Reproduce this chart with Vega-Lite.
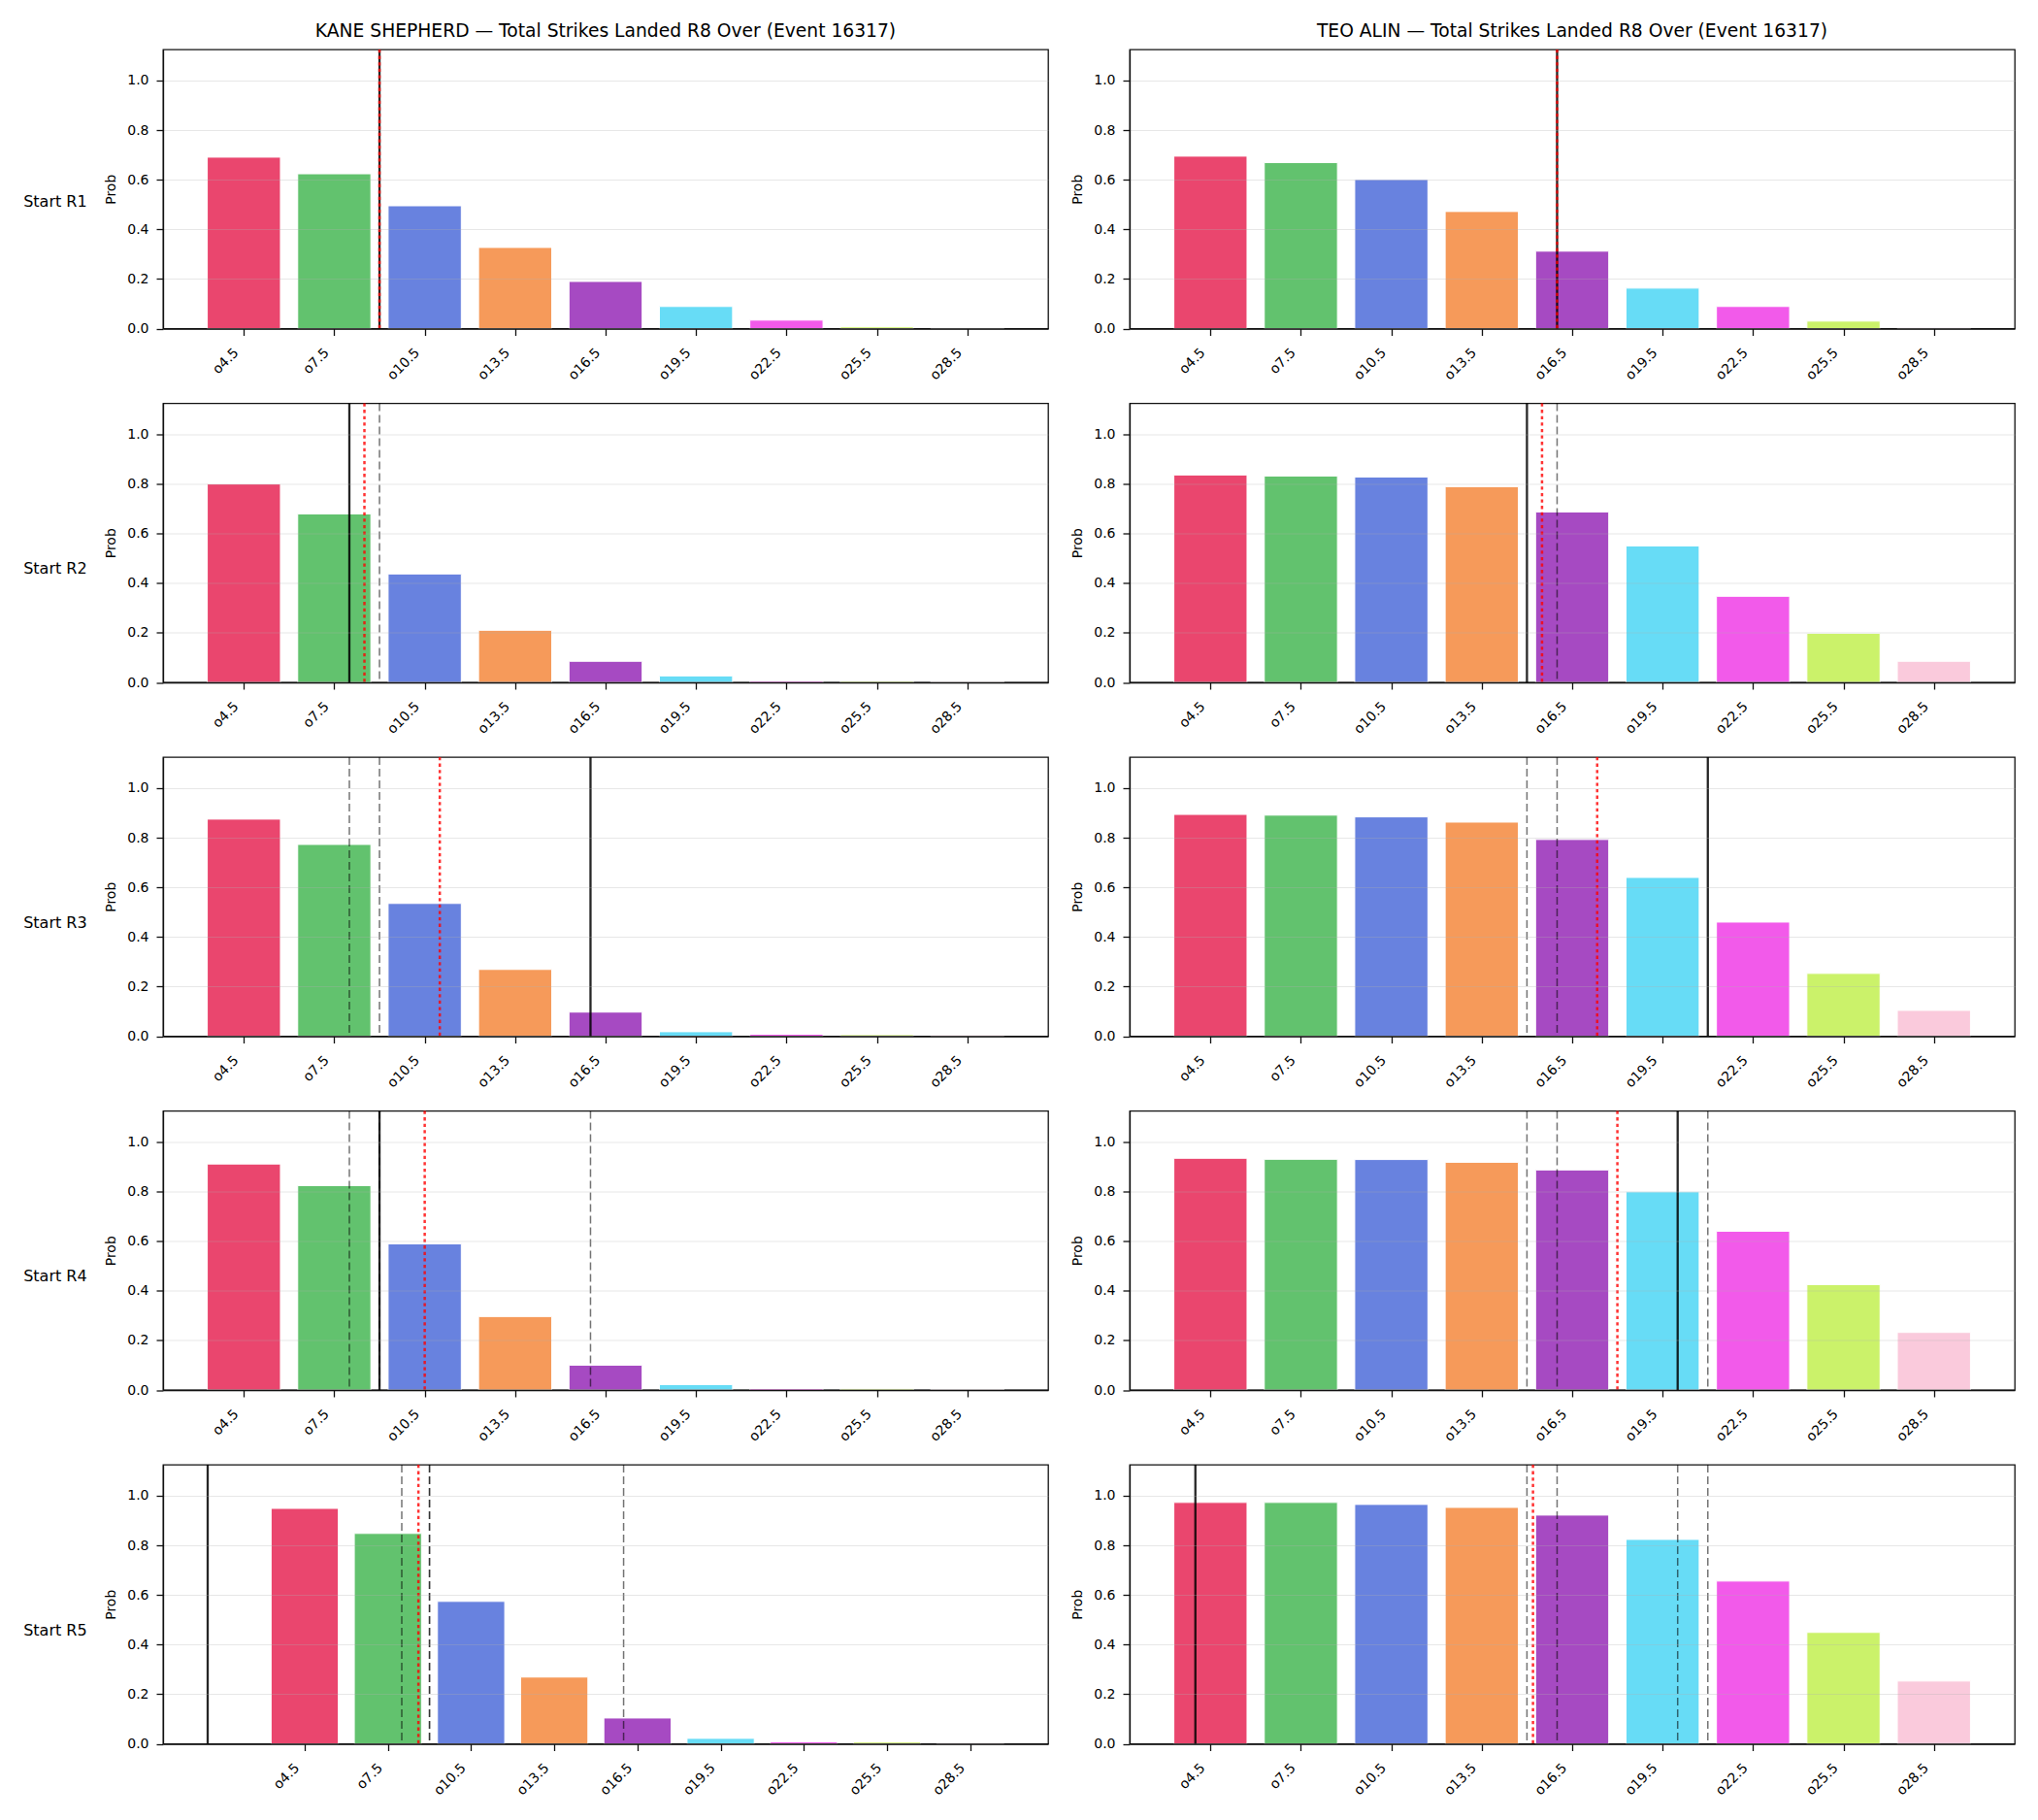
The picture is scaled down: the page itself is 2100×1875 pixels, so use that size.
{
 "$schema": "https://vega.github.io/schema/vega-lite/v6.json",
 "background": "white",
 "padding": {"left": 24, "top": 21, "right": 5, "bottom": 5},
 "config": {
  "font": "DejaVu Sans",
  "view": {"stroke": "#111", "strokeWidth": 1.3},
  "axis": {"labelFont": "DejaVu Sans", "labelFontSize": 14, "labelColor": "#000", "titleFont": "DejaVu Sans", "titleFontSize": 14, "titleFontWeight": "normal", "titleColor": "#000", "tickColor": "#111", "tickSize": 7, "tickWidth": 1.3, "domainColor": "#111", "domainWidth": 1.3},
  "title": {"font": "DejaVu Sans", "fontWeight": "normal", "color": "#000"}
 },
 "datasets": {
  "bars": [
   {"fighter": "KANE SHEPHERD", "start": "R1", "strikes": 4.5, "prob": 0.691},
   {"fighter": "KANE SHEPHERD", "start": "R1", "strikes": 7.5, "prob": 0.624},
   {"fighter": "KANE SHEPHERD", "start": "R1", "strikes": 10.5, "prob": 0.495},
   {"fighter": "KANE SHEPHERD", "start": "R1", "strikes": 13.5, "prob": 0.327},
   {"fighter": "KANE SHEPHERD", "start": "R1", "strikes": 16.5, "prob": 0.190},
   {"fighter": "KANE SHEPHERD", "start": "R1", "strikes": 19.5, "prob": 0.089},
   {"fighter": "KANE SHEPHERD", "start": "R1", "strikes": 22.5, "prob": 0.034},
   {"fighter": "KANE SHEPHERD", "start": "R1", "strikes": 25.5, "prob": 0.007},
   {"fighter": "KANE SHEPHERD", "start": "R1", "strikes": 28.5, "prob": 0.002},
   {"fighter": "TEO ALIN", "start": "R1", "strikes": 4.5, "prob": 0.695},
   {"fighter": "TEO ALIN", "start": "R1", "strikes": 7.5, "prob": 0.669},
   {"fighter": "TEO ALIN", "start": "R1", "strikes": 10.5, "prob": 0.601},
   {"fighter": "TEO ALIN", "start": "R1", "strikes": 13.5, "prob": 0.472},
   {"fighter": "TEO ALIN", "start": "R1", "strikes": 16.5, "prob": 0.312},
   {"fighter": "TEO ALIN", "start": "R1", "strikes": 19.5, "prob": 0.163},
   {"fighter": "TEO ALIN", "start": "R1", "strikes": 22.5, "prob": 0.089},
   {"fighter": "TEO ALIN", "start": "R1", "strikes": 25.5, "prob": 0.030},
   {"fighter": "TEO ALIN", "start": "R1", "strikes": 28.5, "prob": 0.005},
   {"fighter": "KANE SHEPHERD", "start": "R2", "strikes": 4.5, "prob": 0.800},
   {"fighter": "KANE SHEPHERD", "start": "R2", "strikes": 7.5, "prob": 0.679},
   {"fighter": "KANE SHEPHERD", "start": "R2", "strikes": 10.5, "prob": 0.437},
   {"fighter": "KANE SHEPHERD", "start": "R2", "strikes": 13.5, "prob": 0.210},
   {"fighter": "KANE SHEPHERD", "start": "R2", "strikes": 16.5, "prob": 0.085},
   {"fighter": "KANE SHEPHERD", "start": "R2", "strikes": 19.5, "prob": 0.026},
   {"fighter": "KANE SHEPHERD", "start": "R2", "strikes": 22.5, "prob": 0.006},
   {"fighter": "KANE SHEPHERD", "start": "R2", "strikes": 25.5, "prob": 0.005},
   {"fighter": "KANE SHEPHERD", "start": "R2", "strikes": 28.5, "prob": 0.003},
   {"fighter": "TEO ALIN", "start": "R2", "strikes": 4.5, "prob": 0.836},
   {"fighter": "TEO ALIN", "start": "R2", "strikes": 7.5, "prob": 0.832},
   {"fighter": "TEO ALIN", "start": "R2", "strikes": 10.5, "prob": 0.828},
   {"fighter": "TEO ALIN", "start": "R2", "strikes": 13.5, "prob": 0.789},
   {"fighter": "TEO ALIN", "start": "R2", "strikes": 16.5, "prob": 0.687},
   {"fighter": "TEO ALIN", "start": "R2", "strikes": 19.5, "prob": 0.550},
   {"fighter": "TEO ALIN", "start": "R2", "strikes": 22.5, "prob": 0.347},
   {"fighter": "TEO ALIN", "start": "R2", "strikes": 25.5, "prob": 0.198},
   {"fighter": "TEO ALIN", "start": "R2", "strikes": 28.5, "prob": 0.085},
   {"fighter": "KANE SHEPHERD", "start": "R3", "strikes": 4.5, "prob": 0.875},
   {"fighter": "KANE SHEPHERD", "start": "R3", "strikes": 7.5, "prob": 0.773},
   {"fighter": "KANE SHEPHERD", "start": "R3", "strikes": 10.5, "prob": 0.535},
   {"fighter": "KANE SHEPHERD", "start": "R3", "strikes": 13.5, "prob": 0.269},
   {"fighter": "KANE SHEPHERD", "start": "R3", "strikes": 16.5, "prob": 0.097},
   {"fighter": "KANE SHEPHERD", "start": "R3", "strikes": 19.5, "prob": 0.018},
   {"fighter": "KANE SHEPHERD", "start": "R3", "strikes": 22.5, "prob": 0.008},
   {"fighter": "KANE SHEPHERD", "start": "R3", "strikes": 25.5, "prob": 0.006},
   {"fighter": "KANE SHEPHERD", "start": "R3", "strikes": 28.5, "prob": 0.005},
   {"fighter": "TEO ALIN", "start": "R3", "strikes": 4.5, "prob": 0.894},
   {"fighter": "TEO ALIN", "start": "R3", "strikes": 7.5, "prob": 0.891},
   {"fighter": "TEO ALIN", "start": "R3", "strikes": 10.5, "prob": 0.884},
   {"fighter": "TEO ALIN", "start": "R3", "strikes": 13.5, "prob": 0.863},
   {"fighter": "TEO ALIN", "start": "R3", "strikes": 16.5, "prob": 0.793},
   {"fighter": "TEO ALIN", "start": "R3", "strikes": 19.5, "prob": 0.640},
   {"fighter": "TEO ALIN", "start": "R3", "strikes": 22.5, "prob": 0.460},
   {"fighter": "TEO ALIN", "start": "R3", "strikes": 25.5, "prob": 0.253},
   {"fighter": "TEO ALIN", "start": "R3", "strikes": 28.5, "prob": 0.104},
   {"fighter": "KANE SHEPHERD", "start": "R4", "strikes": 4.5, "prob": 0.911},
   {"fighter": "KANE SHEPHERD", "start": "R4", "strikes": 7.5, "prob": 0.824},
   {"fighter": "KANE SHEPHERD", "start": "R4", "strikes": 10.5, "prob": 0.589},
   {"fighter": "KANE SHEPHERD", "start": "R4", "strikes": 13.5, "prob": 0.296},
   {"fighter": "KANE SHEPHERD", "start": "R4", "strikes": 16.5, "prob": 0.100},
   {"fighter": "KANE SHEPHERD", "start": "R4", "strikes": 19.5, "prob": 0.022},
   {"fighter": "KANE SHEPHERD", "start": "R4", "strikes": 22.5, "prob": 0.006},
   {"fighter": "KANE SHEPHERD", "start": "R4", "strikes": 25.5, "prob": 0.005},
   {"fighter": "KANE SHEPHERD", "start": "R4", "strikes": 28.5, "prob": 0.003},
   {"fighter": "TEO ALIN", "start": "R4", "strikes": 4.5, "prob": 0.934},
   {"fighter": "TEO ALIN", "start": "R4", "strikes": 7.5, "prob": 0.930},
   {"fighter": "TEO ALIN", "start": "R4", "strikes": 10.5, "prob": 0.929},
   {"fighter": "TEO ALIN", "start": "R4", "strikes": 13.5, "prob": 0.918},
   {"fighter": "TEO ALIN", "start": "R4", "strikes": 16.5, "prob": 0.887},
   {"fighter": "TEO ALIN", "start": "R4", "strikes": 19.5, "prob": 0.799},
   {"fighter": "TEO ALIN", "start": "R4", "strikes": 22.5, "prob": 0.640},
   {"fighter": "TEO ALIN", "start": "R4", "strikes": 25.5, "prob": 0.425},
   {"fighter": "TEO ALIN", "start": "R4", "strikes": 28.5, "prob": 0.232},
   {"fighter": "KANE SHEPHERD", "start": "R5", "strikes": 4.5, "prob": 0.949},
   {"fighter": "KANE SHEPHERD", "start": "R5", "strikes": 7.5, "prob": 0.848},
   {"fighter": "KANE SHEPHERD", "start": "R5", "strikes": 10.5, "prob": 0.574},
   {"fighter": "KANE SHEPHERD", "start": "R5", "strikes": 13.5, "prob": 0.269},
   {"fighter": "KANE SHEPHERD", "start": "R5", "strikes": 16.5, "prob": 0.104},
   {"fighter": "KANE SHEPHERD", "start": "R5", "strikes": 19.5, "prob": 0.022},
   {"fighter": "KANE SHEPHERD", "start": "R5", "strikes": 22.5, "prob": 0.008},
   {"fighter": "KANE SHEPHERD", "start": "R5", "strikes": 25.5, "prob": 0.007},
   {"fighter": "KANE SHEPHERD", "start": "R5", "strikes": 28.5, "prob": 0.005},
   {"fighter": "TEO ALIN", "start": "R5", "strikes": 4.5, "prob": 0.973},
   {"fighter": "TEO ALIN", "start": "R5", "strikes": 7.5, "prob": 0.973},
   {"fighter": "TEO ALIN", "start": "R5", "strikes": 10.5, "prob": 0.965},
   {"fighter": "TEO ALIN", "start": "R5", "strikes": 13.5, "prob": 0.953},
   {"fighter": "TEO ALIN", "start": "R5", "strikes": 16.5, "prob": 0.922},
   {"fighter": "TEO ALIN", "start": "R5", "strikes": 19.5, "prob": 0.824},
   {"fighter": "TEO ALIN", "start": "R5", "strikes": 22.5, "prob": 0.656},
   {"fighter": "TEO ALIN", "start": "R5", "strikes": 25.5, "prob": 0.449},
   {"fighter": "TEO ALIN", "start": "R5", "strikes": 28.5, "prob": 0.253}
  ],
  "lines": [
   {"fighter": "KANE SHEPHERD", "start": "R1", "kind": "actual", "strikes": 9},
   {"fighter": "KANE SHEPHERD", "start": "R1", "kind": "model", "strikes": 9},
   {"fighter": "KANE SHEPHERD", "start": "R2", "kind": "prior", "strikes": 9},
   {"fighter": "KANE SHEPHERD", "start": "R2", "kind": "actual", "strikes": 8},
   {"fighter": "KANE SHEPHERD", "start": "R2", "kind": "model", "strikes": 8.5},
   {"fighter": "KANE SHEPHERD", "start": "R3", "kind": "prior", "strikes": 9},
   {"fighter": "KANE SHEPHERD", "start": "R3", "kind": "prior", "strikes": 8},
   {"fighter": "KANE SHEPHERD", "start": "R3", "kind": "actual", "strikes": 16},
   {"fighter": "KANE SHEPHERD", "start": "R3", "kind": "model", "strikes": 11},
   {"fighter": "KANE SHEPHERD", "start": "R4", "kind": "prior", "strikes": 9},
   {"fighter": "KANE SHEPHERD", "start": "R4", "kind": "prior", "strikes": 8},
   {"fighter": "KANE SHEPHERD", "start": "R4", "kind": "prior", "strikes": 16},
   {"fighter": "KANE SHEPHERD", "start": "R4", "kind": "actual", "strikes": 9},
   {"fighter": "KANE SHEPHERD", "start": "R4", "kind": "model", "strikes": 10.5},
   {"fighter": "KANE SHEPHERD", "start": "R5", "kind": "prior", "strikes": 9},
   {"fighter": "KANE SHEPHERD", "start": "R5", "kind": "prior", "strikes": 8},
   {"fighter": "KANE SHEPHERD", "start": "R5", "kind": "prior", "strikes": 16},
   {"fighter": "KANE SHEPHERD", "start": "R5", "kind": "prior", "strikes": 9},
   {"fighter": "KANE SHEPHERD", "start": "R5", "kind": "actual", "strikes": 1},
   {"fighter": "KANE SHEPHERD", "start": "R5", "kind": "model", "strikes": 8.6},
   {"fighter": "TEO ALIN", "start": "R1", "kind": "actual", "strikes": 16},
   {"fighter": "TEO ALIN", "start": "R1", "kind": "model", "strikes": 16},
   {"fighter": "TEO ALIN", "start": "R2", "kind": "prior", "strikes": 16},
   {"fighter": "TEO ALIN", "start": "R2", "kind": "actual", "strikes": 15},
   {"fighter": "TEO ALIN", "start": "R2", "kind": "model", "strikes": 15.5},
   {"fighter": "TEO ALIN", "start": "R3", "kind": "prior", "strikes": 16},
   {"fighter": "TEO ALIN", "start": "R3", "kind": "prior", "strikes": 15},
   {"fighter": "TEO ALIN", "start": "R3", "kind": "actual", "strikes": 21},
   {"fighter": "TEO ALIN", "start": "R3", "kind": "model", "strikes": 17.33},
   {"fighter": "TEO ALIN", "start": "R4", "kind": "prior", "strikes": 16},
   {"fighter": "TEO ALIN", "start": "R4", "kind": "prior", "strikes": 15},
   {"fighter": "TEO ALIN", "start": "R4", "kind": "prior", "strikes": 21},
   {"fighter": "TEO ALIN", "start": "R4", "kind": "actual", "strikes": 20},
   {"fighter": "TEO ALIN", "start": "R4", "kind": "model", "strikes": 18},
   {"fighter": "TEO ALIN", "start": "R5", "kind": "prior", "strikes": 16},
   {"fighter": "TEO ALIN", "start": "R5", "kind": "prior", "strikes": 15},
   {"fighter": "TEO ALIN", "start": "R5", "kind": "prior", "strikes": 21},
   {"fighter": "TEO ALIN", "start": "R5", "kind": "prior", "strikes": 20},
   {"fighter": "TEO ALIN", "start": "R5", "kind": "actual", "strikes": 4},
   {"fighter": "TEO ALIN", "start": "R5", "kind": "model", "strikes": 15.2}
  ]
 },
 "spacing": 18.5,
 "vconcat": [
  {"title": {"text": "Start R1", "orient": "left", "angle": 0, "align": "right", "baseline": "middle", "anchor": "middle", "fontSize": 16, "offset": -48},
   "hconcat": [
    {"width": 912, "height": 287.5,
     "title": {"text": "KANE SHEPHERD — Total Strikes Landed R8 Over (Event 16317)", "fontSize": 18.7, "anchor": "middle", "offset": -6.5, "baseline": "alphabetic"},
     "encoding": {"x": {"field": "strikes", "type": "quantitative", "scale": {"domain": [1.98, 31.02], "nice": false, "zero": false}, "axis": {"title": null, "values": [4.5, 7.5, 10.5, 13.5, 16.5, 19.5, 22.5, 25.5, 28.5], "labelExpr": "'o' + format(datum.value, '.1f')", "labelAngle": -45, "labelAlign": "right", "labelBaseline": "middle", "labelPadding": 15.3, "labelOffset": -8, "grid": false, "zindex": 1}}},
     "layer": [
      {"data": {"name": "bars"}, "transform": [{"filter": "datum.fighter === 'KANE SHEPHERD' && datum.start === 'R1'"}], "mark": {"type": "bar", "size": 75.4, "opacity": 0.8, "stroke": "white", "strokeWidth": 1}, "encoding": {"y": {"field": "prob", "type": "quantitative", "scale": {"domain": [0, 1.125], "nice": false}, "axis": {"title": "Prob", "values": [0, 0.2, 0.4, 0.6, 0.8, 1.0], "format": ".1f", "grid": true, "gridColor": "#b0b0b0", "gridOpacity": 0.3, "zindex": 1, "labelPadding": 8, "titlePadding": 9}}, "color": {"field": "strikes", "type": "ordinal", "scale": {"domain": [4.5, 7.5, 10.5, 13.5, 16.5, 19.5, 22.5, 25.5, 28.5], "range": ["#e6194B", "#3cb44b", "#4363d8", "#f58231", "#911eb4", "#42d4f4", "#f032e6", "#bfef45", "#fabed4"]}, "legend": null}}},
      {"data": {"name": "lines"}, "transform": [{"filter": "datum.fighter === 'KANE SHEPHERD' && datum.start === 'R1' && datum.kind === 'prior'"}], "mark": {"type": "rule", "color": "#000", "opacity": 0.55, "strokeDash": [8, 4], "strokeWidth": 1.5}, "encoding": {}},
      {"data": {"name": "lines"}, "transform": [{"filter": "datum.fighter === 'KANE SHEPHERD' && datum.start === 'R1' && datum.kind === 'actual'"}], "mark": {"type": "rule", "color": "#000", "opacity": 0.85, "strokeWidth": 2.3}, "encoding": {}},
      {"data": {"name": "lines"}, "transform": [{"filter": "datum.fighter === 'KANE SHEPHERD' && datum.start === 'R1' && datum.kind === 'model'"}], "mark": {"type": "rule", "color": "#ff0000", "opacity": 0.8, "strokeDash": [3.3, 3.3], "strokeWidth": 2.5}, "encoding": {}}
     ]},
    {"width": 912, "height": 287.5,
     "title": {"text": "TEO ALIN — Total Strikes Landed R8 Over (Event 16317)", "fontSize": 18.7, "anchor": "middle", "offset": -6.5, "baseline": "alphabetic"},
     "encoding": {"x": {"field": "strikes", "type": "quantitative", "scale": {"domain": [1.98, 31.02], "nice": false, "zero": false}, "axis": {"title": null, "values": [4.5, 7.5, 10.5, 13.5, 16.5, 19.5, 22.5, 25.5, 28.5], "labelExpr": "'o' + format(datum.value, '.1f')", "labelAngle": -45, "labelAlign": "right", "labelBaseline": "middle", "labelPadding": 15.3, "labelOffset": -8, "grid": false, "zindex": 1}}},
     "layer": [
      {"data": {"name": "bars"}, "transform": [{"filter": "datum.fighter === 'TEO ALIN' && datum.start === 'R1'"}], "mark": {"type": "bar", "size": 75.4, "opacity": 0.8, "stroke": "white", "strokeWidth": 1}, "encoding": {"y": {"field": "prob", "type": "quantitative", "scale": {"domain": [0, 1.125], "nice": false}, "axis": {"title": "Prob", "values": [0, 0.2, 0.4, 0.6, 0.8, 1.0], "format": ".1f", "grid": true, "gridColor": "#b0b0b0", "gridOpacity": 0.3, "zindex": 1, "labelPadding": 8, "titlePadding": 9}}, "color": {"field": "strikes", "type": "ordinal", "scale": {"domain": [4.5, 7.5, 10.5, 13.5, 16.5, 19.5, 22.5, 25.5, 28.5], "range": ["#e6194B", "#3cb44b", "#4363d8", "#f58231", "#911eb4", "#42d4f4", "#f032e6", "#bfef45", "#fabed4"]}, "legend": null}}},
      {"data": {"name": "lines"}, "transform": [{"filter": "datum.fighter === 'TEO ALIN' && datum.start === 'R1' && datum.kind === 'prior'"}], "mark": {"type": "rule", "color": "#000", "opacity": 0.55, "strokeDash": [8, 4], "strokeWidth": 1.5}, "encoding": {}},
      {"data": {"name": "lines"}, "transform": [{"filter": "datum.fighter === 'TEO ALIN' && datum.start === 'R1' && datum.kind === 'actual'"}], "mark": {"type": "rule", "color": "#000", "opacity": 0.85, "strokeWidth": 2.3}, "encoding": {}},
      {"data": {"name": "lines"}, "transform": [{"filter": "datum.fighter === 'TEO ALIN' && datum.start === 'R1' && datum.kind === 'model'"}], "mark": {"type": "rule", "color": "#ff0000", "opacity": 0.8, "strokeDash": [3.3, 3.3], "strokeWidth": 2.5}, "encoding": {}}
     ]}
   ], "spacing": 84, "bounds": "flush"},
  {"title": {"text": "Start R2", "orient": "left", "angle": 0, "align": "right", "baseline": "middle", "anchor": "middle", "fontSize": 16, "offset": -48},
   "hconcat": [
    {"width": 912, "height": 287.5,
     "encoding": {"x": {"field": "strikes", "type": "quantitative", "scale": {"domain": [1.98, 31.02], "nice": false, "zero": false}, "axis": {"title": null, "values": [4.5, 7.5, 10.5, 13.5, 16.5, 19.5, 22.5, 25.5, 28.5], "labelExpr": "'o' + format(datum.value, '.1f')", "labelAngle": -45, "labelAlign": "right", "labelBaseline": "middle", "labelPadding": 15.3, "labelOffset": -8, "grid": false, "zindex": 1}}},
     "layer": [
      {"data": {"name": "bars"}, "transform": [{"filter": "datum.fighter === 'KANE SHEPHERD' && datum.start === 'R2'"}], "mark": {"type": "bar", "size": 75.4, "opacity": 0.8, "stroke": "white", "strokeWidth": 1}, "encoding": {"y": {"field": "prob", "type": "quantitative", "scale": {"domain": [0, 1.125], "nice": false}, "axis": {"title": "Prob", "values": [0, 0.2, 0.4, 0.6, 0.8, 1.0], "format": ".1f", "grid": true, "gridColor": "#b0b0b0", "gridOpacity": 0.3, "zindex": 1, "labelPadding": 8, "titlePadding": 9}}, "color": {"field": "strikes", "type": "ordinal", "scale": {"domain": [4.5, 7.5, 10.5, 13.5, 16.5, 19.5, 22.5, 25.5, 28.5], "range": ["#e6194B", "#3cb44b", "#4363d8", "#f58231", "#911eb4", "#42d4f4", "#f032e6", "#bfef45", "#fabed4"]}, "legend": null}}},
      {"data": {"name": "lines"}, "transform": [{"filter": "datum.fighter === 'KANE SHEPHERD' && datum.start === 'R2' && datum.kind === 'prior'"}], "mark": {"type": "rule", "color": "#000", "opacity": 0.55, "strokeDash": [8, 4], "strokeWidth": 1.5}, "encoding": {}},
      {"data": {"name": "lines"}, "transform": [{"filter": "datum.fighter === 'KANE SHEPHERD' && datum.start === 'R2' && datum.kind === 'actual'"}], "mark": {"type": "rule", "color": "#000", "opacity": 0.85, "strokeWidth": 2.3}, "encoding": {}},
      {"data": {"name": "lines"}, "transform": [{"filter": "datum.fighter === 'KANE SHEPHERD' && datum.start === 'R2' && datum.kind === 'model'"}], "mark": {"type": "rule", "color": "#ff0000", "opacity": 0.8, "strokeDash": [3.3, 3.3], "strokeWidth": 2.5}, "encoding": {}}
     ]},
    {"width": 912, "height": 287.5,
     "encoding": {"x": {"field": "strikes", "type": "quantitative", "scale": {"domain": [1.98, 31.02], "nice": false, "zero": false}, "axis": {"title": null, "values": [4.5, 7.5, 10.5, 13.5, 16.5, 19.5, 22.5, 25.5, 28.5], "labelExpr": "'o' + format(datum.value, '.1f')", "labelAngle": -45, "labelAlign": "right", "labelBaseline": "middle", "labelPadding": 15.3, "labelOffset": -8, "grid": false, "zindex": 1}}},
     "layer": [
      {"data": {"name": "bars"}, "transform": [{"filter": "datum.fighter === 'TEO ALIN' && datum.start === 'R2'"}], "mark": {"type": "bar", "size": 75.4, "opacity": 0.8, "stroke": "white", "strokeWidth": 1}, "encoding": {"y": {"field": "prob", "type": "quantitative", "scale": {"domain": [0, 1.125], "nice": false}, "axis": {"title": "Prob", "values": [0, 0.2, 0.4, 0.6, 0.8, 1.0], "format": ".1f", "grid": true, "gridColor": "#b0b0b0", "gridOpacity": 0.3, "zindex": 1, "labelPadding": 8, "titlePadding": 9}}, "color": {"field": "strikes", "type": "ordinal", "scale": {"domain": [4.5, 7.5, 10.5, 13.5, 16.5, 19.5, 22.5, 25.5, 28.5], "range": ["#e6194B", "#3cb44b", "#4363d8", "#f58231", "#911eb4", "#42d4f4", "#f032e6", "#bfef45", "#fabed4"]}, "legend": null}}},
      {"data": {"name": "lines"}, "transform": [{"filter": "datum.fighter === 'TEO ALIN' && datum.start === 'R2' && datum.kind === 'prior'"}], "mark": {"type": "rule", "color": "#000", "opacity": 0.55, "strokeDash": [8, 4], "strokeWidth": 1.5}, "encoding": {}},
      {"data": {"name": "lines"}, "transform": [{"filter": "datum.fighter === 'TEO ALIN' && datum.start === 'R2' && datum.kind === 'actual'"}], "mark": {"type": "rule", "color": "#000", "opacity": 0.85, "strokeWidth": 2.3}, "encoding": {}},
      {"data": {"name": "lines"}, "transform": [{"filter": "datum.fighter === 'TEO ALIN' && datum.start === 'R2' && datum.kind === 'model'"}], "mark": {"type": "rule", "color": "#ff0000", "opacity": 0.8, "strokeDash": [3.3, 3.3], "strokeWidth": 2.5}, "encoding": {}}
     ]}
   ], "spacing": 84, "bounds": "flush"},
  {"title": {"text": "Start R3", "orient": "left", "angle": 0, "align": "right", "baseline": "middle", "anchor": "middle", "fontSize": 16, "offset": -48},
   "hconcat": [
    {"width": 912, "height": 287.5,
     "encoding": {"x": {"field": "strikes", "type": "quantitative", "scale": {"domain": [1.98, 31.02], "nice": false, "zero": false}, "axis": {"title": null, "values": [4.5, 7.5, 10.5, 13.5, 16.5, 19.5, 22.5, 25.5, 28.5], "labelExpr": "'o' + format(datum.value, '.1f')", "labelAngle": -45, "labelAlign": "right", "labelBaseline": "middle", "labelPadding": 15.3, "labelOffset": -8, "grid": false, "zindex": 1}}},
     "layer": [
      {"data": {"name": "bars"}, "transform": [{"filter": "datum.fighter === 'KANE SHEPHERD' && datum.start === 'R3'"}], "mark": {"type": "bar", "size": 75.4, "opacity": 0.8, "stroke": "white", "strokeWidth": 1}, "encoding": {"y": {"field": "prob", "type": "quantitative", "scale": {"domain": [0, 1.125], "nice": false}, "axis": {"title": "Prob", "values": [0, 0.2, 0.4, 0.6, 0.8, 1.0], "format": ".1f", "grid": true, "gridColor": "#b0b0b0", "gridOpacity": 0.3, "zindex": 1, "labelPadding": 8, "titlePadding": 9}}, "color": {"field": "strikes", "type": "ordinal", "scale": {"domain": [4.5, 7.5, 10.5, 13.5, 16.5, 19.5, 22.5, 25.5, 28.5], "range": ["#e6194B", "#3cb44b", "#4363d8", "#f58231", "#911eb4", "#42d4f4", "#f032e6", "#bfef45", "#fabed4"]}, "legend": null}}},
      {"data": {"name": "lines"}, "transform": [{"filter": "datum.fighter === 'KANE SHEPHERD' && datum.start === 'R3' && datum.kind === 'prior'"}], "mark": {"type": "rule", "color": "#000", "opacity": 0.55, "strokeDash": [8, 4], "strokeWidth": 1.5}, "encoding": {}},
      {"data": {"name": "lines"}, "transform": [{"filter": "datum.fighter === 'KANE SHEPHERD' && datum.start === 'R3' && datum.kind === 'actual'"}], "mark": {"type": "rule", "color": "#000", "opacity": 0.85, "strokeWidth": 2.3}, "encoding": {}},
      {"data": {"name": "lines"}, "transform": [{"filter": "datum.fighter === 'KANE SHEPHERD' && datum.start === 'R3' && datum.kind === 'model'"}], "mark": {"type": "rule", "color": "#ff0000", "opacity": 0.8, "strokeDash": [3.3, 3.3], "strokeWidth": 2.5}, "encoding": {}}
     ]},
    {"width": 912, "height": 287.5,
     "encoding": {"x": {"field": "strikes", "type": "quantitative", "scale": {"domain": [1.98, 31.02], "nice": false, "zero": false}, "axis": {"title": null, "values": [4.5, 7.5, 10.5, 13.5, 16.5, 19.5, 22.5, 25.5, 28.5], "labelExpr": "'o' + format(datum.value, '.1f')", "labelAngle": -45, "labelAlign": "right", "labelBaseline": "middle", "labelPadding": 15.3, "labelOffset": -8, "grid": false, "zindex": 1}}},
     "layer": [
      {"data": {"name": "bars"}, "transform": [{"filter": "datum.fighter === 'TEO ALIN' && datum.start === 'R3'"}], "mark": {"type": "bar", "size": 75.4, "opacity": 0.8, "stroke": "white", "strokeWidth": 1}, "encoding": {"y": {"field": "prob", "type": "quantitative", "scale": {"domain": [0, 1.125], "nice": false}, "axis": {"title": "Prob", "values": [0, 0.2, 0.4, 0.6, 0.8, 1.0], "format": ".1f", "grid": true, "gridColor": "#b0b0b0", "gridOpacity": 0.3, "zindex": 1, "labelPadding": 8, "titlePadding": 9}}, "color": {"field": "strikes", "type": "ordinal", "scale": {"domain": [4.5, 7.5, 10.5, 13.5, 16.5, 19.5, 22.5, 25.5, 28.5], "range": ["#e6194B", "#3cb44b", "#4363d8", "#f58231", "#911eb4", "#42d4f4", "#f032e6", "#bfef45", "#fabed4"]}, "legend": null}}},
      {"data": {"name": "lines"}, "transform": [{"filter": "datum.fighter === 'TEO ALIN' && datum.start === 'R3' && datum.kind === 'prior'"}], "mark": {"type": "rule", "color": "#000", "opacity": 0.55, "strokeDash": [8, 4], "strokeWidth": 1.5}, "encoding": {}},
      {"data": {"name": "lines"}, "transform": [{"filter": "datum.fighter === 'TEO ALIN' && datum.start === 'R3' && datum.kind === 'actual'"}], "mark": {"type": "rule", "color": "#000", "opacity": 0.85, "strokeWidth": 2.3}, "encoding": {}},
      {"data": {"name": "lines"}, "transform": [{"filter": "datum.fighter === 'TEO ALIN' && datum.start === 'R3' && datum.kind === 'model'"}], "mark": {"type": "rule", "color": "#ff0000", "opacity": 0.8, "strokeDash": [3.3, 3.3], "strokeWidth": 2.5}, "encoding": {}}
     ]}
   ], "spacing": 84, "bounds": "flush"},
  {"title": {"text": "Start R4", "orient": "left", "angle": 0, "align": "right", "baseline": "middle", "anchor": "middle", "fontSize": 16, "offset": -48},
   "hconcat": [
    {"width": 912, "height": 287.5,
     "encoding": {"x": {"field": "strikes", "type": "quantitative", "scale": {"domain": [1.98, 31.02], "nice": false, "zero": false}, "axis": {"title": null, "values": [4.5, 7.5, 10.5, 13.5, 16.5, 19.5, 22.5, 25.5, 28.5], "labelExpr": "'o' + format(datum.value, '.1f')", "labelAngle": -45, "labelAlign": "right", "labelBaseline": "middle", "labelPadding": 15.3, "labelOffset": -8, "grid": false, "zindex": 1}}},
     "layer": [
      {"data": {"name": "bars"}, "transform": [{"filter": "datum.fighter === 'KANE SHEPHERD' && datum.start === 'R4'"}], "mark": {"type": "bar", "size": 75.4, "opacity": 0.8, "stroke": "white", "strokeWidth": 1}, "encoding": {"y": {"field": "prob", "type": "quantitative", "scale": {"domain": [0, 1.125], "nice": false}, "axis": {"title": "Prob", "values": [0, 0.2, 0.4, 0.6, 0.8, 1.0], "format": ".1f", "grid": true, "gridColor": "#b0b0b0", "gridOpacity": 0.3, "zindex": 1, "labelPadding": 8, "titlePadding": 9}}, "color": {"field": "strikes", "type": "ordinal", "scale": {"domain": [4.5, 7.5, 10.5, 13.5, 16.5, 19.5, 22.5, 25.5, 28.5], "range": ["#e6194B", "#3cb44b", "#4363d8", "#f58231", "#911eb4", "#42d4f4", "#f032e6", "#bfef45", "#fabed4"]}, "legend": null}}},
      {"data": {"name": "lines"}, "transform": [{"filter": "datum.fighter === 'KANE SHEPHERD' && datum.start === 'R4' && datum.kind === 'prior'"}], "mark": {"type": "rule", "color": "#000", "opacity": 0.55, "strokeDash": [8, 4], "strokeWidth": 1.5}, "encoding": {}},
      {"data": {"name": "lines"}, "transform": [{"filter": "datum.fighter === 'KANE SHEPHERD' && datum.start === 'R4' && datum.kind === 'actual'"}], "mark": {"type": "rule", "color": "#000", "opacity": 0.85, "strokeWidth": 2.3}, "encoding": {}},
      {"data": {"name": "lines"}, "transform": [{"filter": "datum.fighter === 'KANE SHEPHERD' && datum.start === 'R4' && datum.kind === 'model'"}], "mark": {"type": "rule", "color": "#ff0000", "opacity": 0.8, "strokeDash": [3.3, 3.3], "strokeWidth": 2.5}, "encoding": {}}
     ]},
    {"width": 912, "height": 287.5,
     "encoding": {"x": {"field": "strikes", "type": "quantitative", "scale": {"domain": [1.98, 31.02], "nice": false, "zero": false}, "axis": {"title": null, "values": [4.5, 7.5, 10.5, 13.5, 16.5, 19.5, 22.5, 25.5, 28.5], "labelExpr": "'o' + format(datum.value, '.1f')", "labelAngle": -45, "labelAlign": "right", "labelBaseline": "middle", "labelPadding": 15.3, "labelOffset": -8, "grid": false, "zindex": 1}}},
     "layer": [
      {"data": {"name": "bars"}, "transform": [{"filter": "datum.fighter === 'TEO ALIN' && datum.start === 'R4'"}], "mark": {"type": "bar", "size": 75.4, "opacity": 0.8, "stroke": "white", "strokeWidth": 1}, "encoding": {"y": {"field": "prob", "type": "quantitative", "scale": {"domain": [0, 1.125], "nice": false}, "axis": {"title": "Prob", "values": [0, 0.2, 0.4, 0.6, 0.8, 1.0], "format": ".1f", "grid": true, "gridColor": "#b0b0b0", "gridOpacity": 0.3, "zindex": 1, "labelPadding": 8, "titlePadding": 9}}, "color": {"field": "strikes", "type": "ordinal", "scale": {"domain": [4.5, 7.5, 10.5, 13.5, 16.5, 19.5, 22.5, 25.5, 28.5], "range": ["#e6194B", "#3cb44b", "#4363d8", "#f58231", "#911eb4", "#42d4f4", "#f032e6", "#bfef45", "#fabed4"]}, "legend": null}}},
      {"data": {"name": "lines"}, "transform": [{"filter": "datum.fighter === 'TEO ALIN' && datum.start === 'R4' && datum.kind === 'prior'"}], "mark": {"type": "rule", "color": "#000", "opacity": 0.55, "strokeDash": [8, 4], "strokeWidth": 1.5}, "encoding": {}},
      {"data": {"name": "lines"}, "transform": [{"filter": "datum.fighter === 'TEO ALIN' && datum.start === 'R4' && datum.kind === 'actual'"}], "mark": {"type": "rule", "color": "#000", "opacity": 0.85, "strokeWidth": 2.3}, "encoding": {}},
      {"data": {"name": "lines"}, "transform": [{"filter": "datum.fighter === 'TEO ALIN' && datum.start === 'R4' && datum.kind === 'model'"}], "mark": {"type": "rule", "color": "#ff0000", "opacity": 0.8, "strokeDash": [3.3, 3.3], "strokeWidth": 2.5}, "encoding": {}}
     ]}
   ], "spacing": 84, "bounds": "flush"},
  {"title": {"text": "Start R5", "orient": "left", "angle": 0, "align": "right", "baseline": "middle", "anchor": "middle", "fontSize": 16, "offset": -48},
   "hconcat": [
    {"width": 912, "height": 287.5,
     "encoding": {"x": {"field": "strikes", "type": "quantitative", "scale": {"domain": [-0.435, 31.135], "nice": false, "zero": false}, "axis": {"title": null, "values": [4.5, 7.5, 10.5, 13.5, 16.5, 19.5, 22.5, 25.5, 28.5], "labelExpr": "'o' + format(datum.value, '.1f')", "labelAngle": -45, "labelAlign": "right", "labelBaseline": "middle", "labelPadding": 15.3, "labelOffset": -8, "grid": false, "zindex": 1}}},
     "layer": [
      {"data": {"name": "bars"}, "transform": [{"filter": "datum.fighter === 'KANE SHEPHERD' && datum.start === 'R5'"}], "mark": {"type": "bar", "size": 69.3, "opacity": 0.8, "stroke": "white", "strokeWidth": 1}, "encoding": {"y": {"field": "prob", "type": "quantitative", "scale": {"domain": [0, 1.125], "nice": false}, "axis": {"title": "Prob", "values": [0, 0.2, 0.4, 0.6, 0.8, 1.0], "format": ".1f", "grid": true, "gridColor": "#b0b0b0", "gridOpacity": 0.3, "zindex": 1, "labelPadding": 8, "titlePadding": 9}}, "color": {"field": "strikes", "type": "ordinal", "scale": {"domain": [4.5, 7.5, 10.5, 13.5, 16.5, 19.5, 22.5, 25.5, 28.5], "range": ["#e6194B", "#3cb44b", "#4363d8", "#f58231", "#911eb4", "#42d4f4", "#f032e6", "#bfef45", "#fabed4"]}, "legend": null}}},
      {"data": {"name": "lines"}, "transform": [{"filter": "datum.fighter === 'KANE SHEPHERD' && datum.start === 'R5' && datum.kind === 'prior'"}], "mark": {"type": "rule", "color": "#000", "opacity": 0.55, "strokeDash": [8, 4], "strokeWidth": 1.5}, "encoding": {}},
      {"data": {"name": "lines"}, "transform": [{"filter": "datum.fighter === 'KANE SHEPHERD' && datum.start === 'R5' && datum.kind === 'actual'"}], "mark": {"type": "rule", "color": "#000", "opacity": 0.85, "strokeWidth": 2.3}, "encoding": {}},
      {"data": {"name": "lines"}, "transform": [{"filter": "datum.fighter === 'KANE SHEPHERD' && datum.start === 'R5' && datum.kind === 'model'"}], "mark": {"type": "rule", "color": "#ff0000", "opacity": 0.8, "strokeDash": [3.3, 3.3], "strokeWidth": 2.5}, "encoding": {}}
     ]},
    {"width": 912, "height": 287.5,
     "encoding": {"x": {"field": "strikes", "type": "quantitative", "scale": {"domain": [1.98, 31.02], "nice": false, "zero": false}, "axis": {"title": null, "values": [4.5, 7.5, 10.5, 13.5, 16.5, 19.5, 22.5, 25.5, 28.5], "labelExpr": "'o' + format(datum.value, '.1f')", "labelAngle": -45, "labelAlign": "right", "labelBaseline": "middle", "labelPadding": 15.3, "labelOffset": -8, "grid": false, "zindex": 1}}},
     "layer": [
      {"data": {"name": "bars"}, "transform": [{"filter": "datum.fighter === 'TEO ALIN' && datum.start === 'R5'"}], "mark": {"type": "bar", "size": 75.4, "opacity": 0.8, "stroke": "white", "strokeWidth": 1}, "encoding": {"y": {"field": "prob", "type": "quantitative", "scale": {"domain": [0, 1.125], "nice": false}, "axis": {"title": "Prob", "values": [0, 0.2, 0.4, 0.6, 0.8, 1.0], "format": ".1f", "grid": true, "gridColor": "#b0b0b0", "gridOpacity": 0.3, "zindex": 1, "labelPadding": 8, "titlePadding": 9}}, "color": {"field": "strikes", "type": "ordinal", "scale": {"domain": [4.5, 7.5, 10.5, 13.5, 16.5, 19.5, 22.5, 25.5, 28.5], "range": ["#e6194B", "#3cb44b", "#4363d8", "#f58231", "#911eb4", "#42d4f4", "#f032e6", "#bfef45", "#fabed4"]}, "legend": null}}},
      {"data": {"name": "lines"}, "transform": [{"filter": "datum.fighter === 'TEO ALIN' && datum.start === 'R5' && datum.kind === 'prior'"}], "mark": {"type": "rule", "color": "#000", "opacity": 0.55, "strokeDash": [8, 4], "strokeWidth": 1.5}, "encoding": {}},
      {"data": {"name": "lines"}, "transform": [{"filter": "datum.fighter === 'TEO ALIN' && datum.start === 'R5' && datum.kind === 'actual'"}], "mark": {"type": "rule", "color": "#000", "opacity": 0.85, "strokeWidth": 2.3}, "encoding": {}},
      {"data": {"name": "lines"}, "transform": [{"filter": "datum.fighter === 'TEO ALIN' && datum.start === 'R5' && datum.kind === 'model'"}], "mark": {"type": "rule", "color": "#ff0000", "opacity": 0.8, "strokeDash": [3.3, 3.3], "strokeWidth": 2.5}, "encoding": {}}
     ]}
   ], "spacing": 84, "bounds": "flush"}
 ]
}
